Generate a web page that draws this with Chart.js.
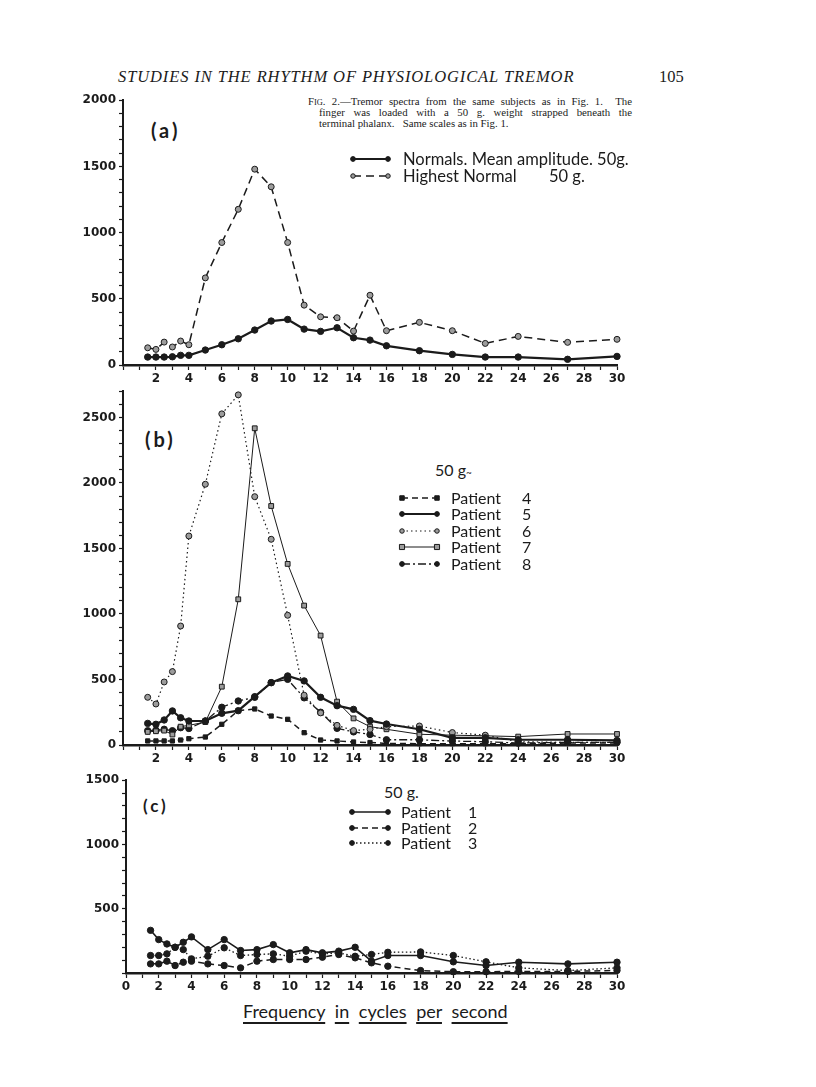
<!DOCTYPE html>
<html>
<head>
<meta charset="utf-8">
<script src="https://cdn.jsdelivr.net/npm/chart.js@4.4.1/dist/chart.umd.min.js"></script>
<style>
  body { margin: 0; background: #fff; }
  #page { position: relative; width: 816px; height: 1087px; overflow: hidden; background: #fff; color: #1b1b1b; }
  canvas { position: absolute; }
  .t { position: absolute; white-space: nowrap; line-height: 1; }
  .cap { position: absolute; font: 10.8px 'Liberation Serif'; line-height: 1; white-space: nowrap; }
  .just { text-align: justify; text-align-last: justify; white-space: normal; }
  .u { text-decoration: underline; text-decoration-thickness: 1.5px; text-underline-offset: 4px; }
</style>
</head>
<body>
<div id="page">
  <div class="t" style="left:118px;top:67px;font:italic 16.5px 'Liberation Serif';letter-spacing:0.9px">STUDIES IN THE RHYTHM OF PHYSIOLOGICAL TREMOR</div>
  <div class="t" style="left:659px;top:67px;font:16.5px 'Liberation Serif'">105</div>

  <div class="cap just" style="left:308px;top:96px;width:324px">F<span style="font-size:8.4px">IG</span>. 2.—Tremor spectra from the same subjects as in Fig. 1.&nbsp; The</div>
  <div class="cap just" style="left:319px;top:107px;width:313px">finger was loaded with a 50 g. weight strapped beneath the</div>
  <div class="cap" style="left:319px;top:118px">terminal phalanx.&nbsp;&nbsp; Same scales as in Fig. 1.</div>

  <div class="t" style="left:151px;top:118px;font:bold 20px Lato;letter-spacing:3px">(a)</div>
  <div class="t" style="left:145px;top:427px;font:bold 20px Lato;letter-spacing:3px">(b)</div>
  <div class="t" style="left:143px;top:795px;font:bold 17px Lato;letter-spacing:3px">(c)</div>

  <div class="t" style="left:435px;top:460px;font:16px Lato">50 g<span style="font-size:10px">~</span></div>
  <div class="t" style="left:384px;top:782px;font:16px Lato">50 g.</div>

  <div class="t" style="left:243px;top:1000px;font:18px Lato;word-spacing:5px">
    <span class="u">Frequency</span> <span class="u">in</span> <span class="u">cycles</span> <span class="u">per</span> <span class="u">second</span>
  </div>

  <canvas id="chartA" style="left:73px;top:90px" width="564" height="305"></canvas>
  <canvas id="chartB" style="left:73px;top:381px" width="564" height="394"></canvas>
  <canvas id="chartC" style="left:76px;top:770px" width="561" height="233"></canvas>
</div>

<script>
const ink = '#1b1b1b';
const grey = '#9c9c9c';

// frequencies (cycles per second) common to all panels
const freq = [1.5, 2, 2.5, 3, 3.5, 4, 5, 6, 7, 8, 9, 10, 11, 12, 13, 14, 15, 16, 18, 20, 22, 24, 27, 30];

// (a) normals
const normalsMean   = [60, 60, 60, 62, 73, 73, 113, 153, 198, 264, 332, 344, 271, 254, 281, 206, 188, 145, 108, 80, 60, 60, 43, 65];
const highestNormal = [130, 118, 173, 136, 181, 153, 658, 925, 1176, 1479, 1346, 925, 452, 364, 357, 256, 527, 259, 322, 259, 163, 216, 171, 194];

// (b) patients 4 - 8
const patient4 = [31, 31, 31, 31, 38, 48, 61, 158, 262, 275, 221, 196, 94, 38, 31, 23, 19, 12, 10, 10, 10, 10, 15, 15];
const patient5 = [165, 158, 191, 260, 208, 183, 183, 242, 262, 369, 476, 527, 489, 364, 300, 272, 186, 160, 120, 55, 55, 40, 40, 35];
const patient6 = [364, 313, 481, 560, 908, 1595, 1990, 2527, 2672, 1895, 1570, 990, 380, 245, 150, 110, 120, 140, 145, 95, 75, 25, 20, 20];
const patient7 = [100, 105, 110, 80, 140, 150, 175, 445, 1112, 2417, 1824, 1382, 1064, 835, 331, 203, 140, 120, 82, 75, 70, 64, 84, 84];
const patient8 = [109, 113, 120, 109, 132, 126, 183, 288, 336, 364, 476, 501, 360, 250, 127, 100, 80, 40, 40, 30, 25, 15, 20, 20];

// (c) patients 1 - 3
const patient1 = [332, 260, 226, 200, 239, 281, 182, 260, 175, 182, 221, 157, 182, 157, 170, 200, 92, 136, 136, 87, 58, 84, 71, 84];
const patient2 = [71, 71, 92, 58, 84, 92, 71, 58, 40, 92, 105, 105, 105, 123, 144, 118, 79, 53, 19, 10, 10, 12, 12, 20];
const patient3 = [136, 136, 149, 200, 182, 110, 131, 196, 136, 144, 149, 131, 170, 149, 157, 130, 144, 161, 164, 136, 87, 40, 19, 40];

const pts = vals => vals.map((v, i) => ({ x: freq[i], y: v }));

function mark(ctx, ds, x, y, s) {
  const r = ds.pointRadius * s;
  ctx.fillStyle = ds.pointBackgroundColor;
  ctx.strokeStyle = ds.pointBorderColor;
  ctx.lineWidth = ds.pointBorderWidth;
  ctx.beginPath();
  if (ds.pointStyle === 'rect') ctx.rect(x - r, y - r, 2 * r, 2 * r);
  else ctx.arc(x, y, r, 0, Math.PI * 2);
  ctx.fill();
  ctx.stroke();
}

// hand drawn style key: line sample with a mark at each end, then text
const sampleLegend = {
  id: 'sampleLegend',
  afterDatasetsDraw(chart, args, o) {
    if (!o || !o.rows) return;
    const ctx = chart.ctx;
    ctx.save();
    chart.data.datasets.forEach((ds, i) => {
      const y = o.rows[i] - o.top;
      const x0 = o.x0 - o.left, x1 = o.x1 - o.left;
      ctx.strokeStyle = ds.borderColor;
      ctx.lineWidth = ds.borderWidth;
      ctx.setLineDash(ds.borderDash || []);
      ctx.beginPath();
      ctx.moveTo(x0, y);
      ctx.lineTo(x1, y);
      ctx.stroke();
      ctx.setLineDash([]);
      [x0, x1].forEach(x => mark(ctx, ds, x, y, 0.75));
      ctx.fillStyle = ink;
      ctx.font = o.font;
      ctx.textBaseline = 'middle';
      o.texts[i].forEach(([t, tx]) => ctx.fillText(t, tx - o.left, y + 1));
    });
    ctx.restore();
  }
};

function scales(yMax, zeroOnX) {
  return {
    x: {
      type: 'linear', min: 0, max: 30,
      afterFit: s => { s.height = 30; },
      ticks: {
        stepSize: 1, autoSkip: false, maxRotation: 0, padding: 2, color: ink,
        font: { family: 'DejaVu Sans', weight: 'bold', size: 12 },
        callback: v => (v >= 2 && v % 2 === 0) || (zeroOnX && v === 0) ? String(v) : ''
      },
      grid: { drawOnChartArea: false, drawTicks: true, tickLength: 5, tickColor: ink, tickWidth: 1.2 },
      border: { color: ink, width: 2.5 }
    },
    y: {
      min: 0, max: yMax,
      afterFit: s => { s.width = 50; },
      ticks: {
        stepSize: 100, autoSkip: false, padding: 3, color: ink,
        font: { family: 'DejaVu Sans', weight: 'bold', size: 12 },
        callback: v => v % 500 === 0 && (v > 0 || !zeroOnX) ? String(v) : ''
      },
      grid: { drawOnChartArea: false, drawTicks: true, tickLength: 4, tickColor: ink, tickWidth: 1.2 },
      border: { color: ink, width: 2 }
    }
  };
}

function series(label, vals, style) {
  return Object.assign({
    label, data: pts(vals), borderColor: ink, borderWidth: 1.5, borderDash: [],
    pointStyle: 'circle', pointRadius: 3.2, pointBackgroundColor: ink, pointBorderColor: ink,
    pointBorderWidth: 1, tension: 0, fill: false, clip: false
  }, style);
}

const common = (yMax, zeroOnX, legend) => ({
  responsive: false, animation: false, devicePixelRatio: 1,
  layout: { padding: { top: 10, right: 20, left: 0, bottom: 0 } },
  plugins: { legend: { display: false }, tooltip: { enabled: false }, sampleLegend: legend },
  scales: scales(yMax, zeroOnX)
});

// Panel (a)
new Chart(document.getElementById('chartA'), {
  type: 'line',
  data: {
    datasets: [
      series('Normals. Mean amplitude. 50g.', normalsMean, { borderWidth: 2.2 }),
      series('Highest Normal 50 g.', highestNormal, { borderDash: [8, 5], pointBackgroundColor: grey, pointRadius: 3 })
    ]
  },
  options: common(2000, false, {
    left: 73, top: 90, x0: 353, x1: 388, rows: [159, 176], font: '16.5px Lato',
    texts: [[['Normals. Mean amplitude. 50g.', 403]], [['Highest Normal', 403], ['50 g.', 549]]]
  }),
  plugins: [sampleLegend]
});

// Panel (b)
new Chart(document.getElementById('chartB'), {
  type: 'line',
  data: {
    datasets: [
      series('Patient 4', patient4, { borderDash: [6, 4], pointStyle: 'rect', pointRadius: 3 }),
      series('Patient 5', patient5, { borderWidth: 2.2 }),
      series('Patient 6', patient6, { borderWidth: 1.2, borderDash: [1.5, 3], pointBackgroundColor: grey, pointRadius: 3 }),
      series('Patient 7', patient7, { borderWidth: 1, pointStyle: 'rect', pointBackgroundColor: grey, pointRadius: 3.4 }),
      series('Patient 8', patient8, { borderWidth: 1.3, borderDash: [8, 3, 2, 3] })
    ]
  },
  options: common(2700, false, {
    left: 73, top: 381, x0: 402, x1: 437, rows: [498, 514, 531, 547, 564], font: '16px Lato',
    texts: [[['Patient', 451], ['4', 522]], [['Patient', 451], ['5', 522]], [['Patient', 451], ['6', 522]],
            [['Patient', 451], ['7', 522]], [['Patient', 451], ['8', 522]]]
  }),
  plugins: [sampleLegend]
});

// Panel (c)
new Chart(document.getElementById('chartC'), {
  type: 'line',
  data: {
    datasets: [
      series('Patient 1', patient1, { borderWidth: 1.6 }),
      series('Patient 2', patient2, { borderDash: [6, 4] }),
      series('Patient 3', patient3, { borderWidth: 1.3, borderDash: [1.5, 2.5] })
    ]
  },
  options: common(1500, true, {
    left: 76, top: 770, x0: 352, x1: 388, rows: [812, 828, 843], font: '16px Lato',
    texts: [[['Patient', 401], ['1', 468]], [['Patient', 401], ['2', 468]], [['Patient', 401], ['3', 468]]]
  }),
  plugins: [sampleLegend]
});
</script>
</body>
</html>
